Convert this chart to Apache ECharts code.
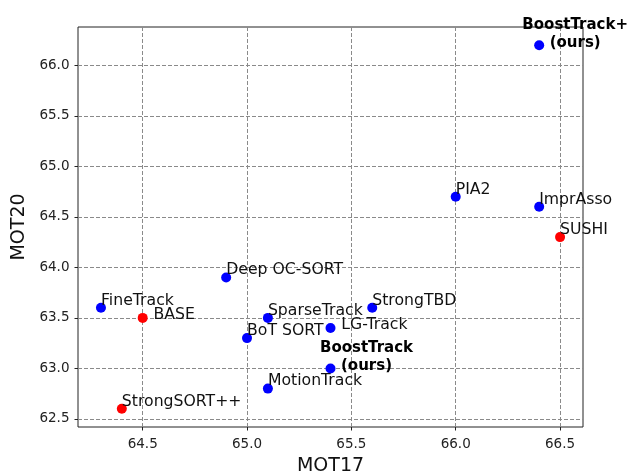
<!DOCTYPE html>
<html><head><meta charset="utf-8">
<script src="https://cdn.jsdelivr.net/npm/echarts@6/dist/echarts.min.js"></script>
<style>html,body{margin:0;padding:0;background:#fff}#c{width:630px;height:471px}</style>
</head><body><div id="c"></div>
<script>
// ---- data ----
const methods = ['FineTrack','BASE','StrongSORT++','Deep OC-SORT','SparseTrack','BoT SORT','MotionTrack','LG-Track','BoostTrack\n(ours)','StrongTBD','PIA2','ImprAsso','SUSHI','BoostTrack+\n(ours)'];
const mot17 = [64.3, 64.5, 64.4, 64.9, 65.1, 65.0, 65.1, 65.4, 65.4, 65.6, 66.0, 66.4, 66.5, 66.4];
const mot20 = [63.6, 63.5, 62.6, 63.9, 63.5, 63.3, 62.8, 63.4, 63.0, 63.6, 64.7, 64.6, 64.3, 66.2];
const highlighted = ['BASE', 'StrongSORT++', 'SUSHI'];   // drawn in red
const xTicks = [64.5, 65.0, 65.5, 66.0, 66.5];
const yTicks = [62.5, 63.0, 63.5, 64.0, 64.5, 65.0, 65.5, 66.0];
const xRange = [64.19, 66.61];
const yRange = [62.42, 66.38];

// ---- label layout (style, not data) ----
const rightLabels = ['BASE', 'LG-Track'];
const FONT = 'DejaVu Sans';
function labelFor(name) {
  if (name.indexOf('(ours)') >= 0) {
    return {show: true, formatter: '{b}', position: [41, 12], align: 'center', verticalAlign: 'bottom',
      fontWeight: 'bold', fontSize: 15, lineHeight: 18, fontFamily: FONT, color: '#000'};
  }
  if (rightLabels.indexOf(name) >= 0) {
    return {show: true, formatter: '{b}', position: [15.8, 10], align: 'left', verticalAlign: 'bottom',
      fontSize: 15.7, lineHeight: 15.7, fontFamily: FONT, color: '#111'};
  }
  return {show: true, formatter: '{b}', position: [5, 5.6], align: 'left', verticalAlign: 'bottom',
    fontSize: 15.7, lineHeight: 15.7, fontFamily: FONT, color: '#111'};
}

const points = methods.map((n, i) => ({
  name: n,
  value: [mot17[i], mot20[i]],
  itemStyle: {color: highlighted.indexOf(n) >= 0 ? '#ff0000' : '#0000ff', opacity: 1},
  label: labelFor(n)
}));

const fmt = v => v.toFixed(1);
const chart = echarts.init(document.getElementById('c'), null, {renderer: 'canvas'});
chart.setOption({
  animation: false,
  backgroundColor: '#fff',
  grid: {left: 78, top: 27, right: 47, bottom: 44, outerBoundsMode: 'none', containLabel: false,
    show: true, borderColor: '#222', borderWidth: 1, backgroundColor: 'transparent'},
  xAxis: {
    type: 'value', min: xRange[0], max: xRange[1],
    name: 'MOT17', nameLocation: 'middle', nameGap: 26.5,
    nameTextStyle: {fontFamily: FONT, fontSize: 19, color: '#111'},
    axisLine: {show: false},
    axisTick: {show: true, inside: false, length: 3.5, customValues: xTicks, lineStyle: {color: '#222'}},
    axisLabel: {customValues: xTicks, formatter: fmt, margin: 10.5, fontFamily: FONT, fontSize: 13.5, color: '#222'},
    splitLine: {show: true, lineStyle: {color: '#8a8a8a', type: [4, 2], width: 1}}
  },
  yAxis: {
    type: 'value', min: yRange[0], max: yRange[1],
    name: 'MOT20', nameLocation: 'middle', nameGap: 45.5, nameRotate: 90,
    nameTextStyle: {fontFamily: FONT, fontSize: 19, color: '#111'},
    axisLine: {show: false},
    axisTick: {show: true, inside: false, length: 3.5, customValues: yTicks, lineStyle: {color: '#222'}},
    axisLabel: {customValues: yTicks, formatter: fmt, margin: 8.5, fontFamily: FONT, fontSize: 13.5, color: '#222'},
    splitLine: {show: true, lineStyle: {color: '#8a8a8a', type: [4, 2], width: 1}}
  },
  series: [{
    type: 'scatter', symbol: 'circle', symbolSize: 10, clip: false,
    data: points,
    itemStyle: {opacity: 1},
    labelLayout: {hideOverlap: false},
    emphasis: {disabled: true}
  }]
});
</script></body></html>
